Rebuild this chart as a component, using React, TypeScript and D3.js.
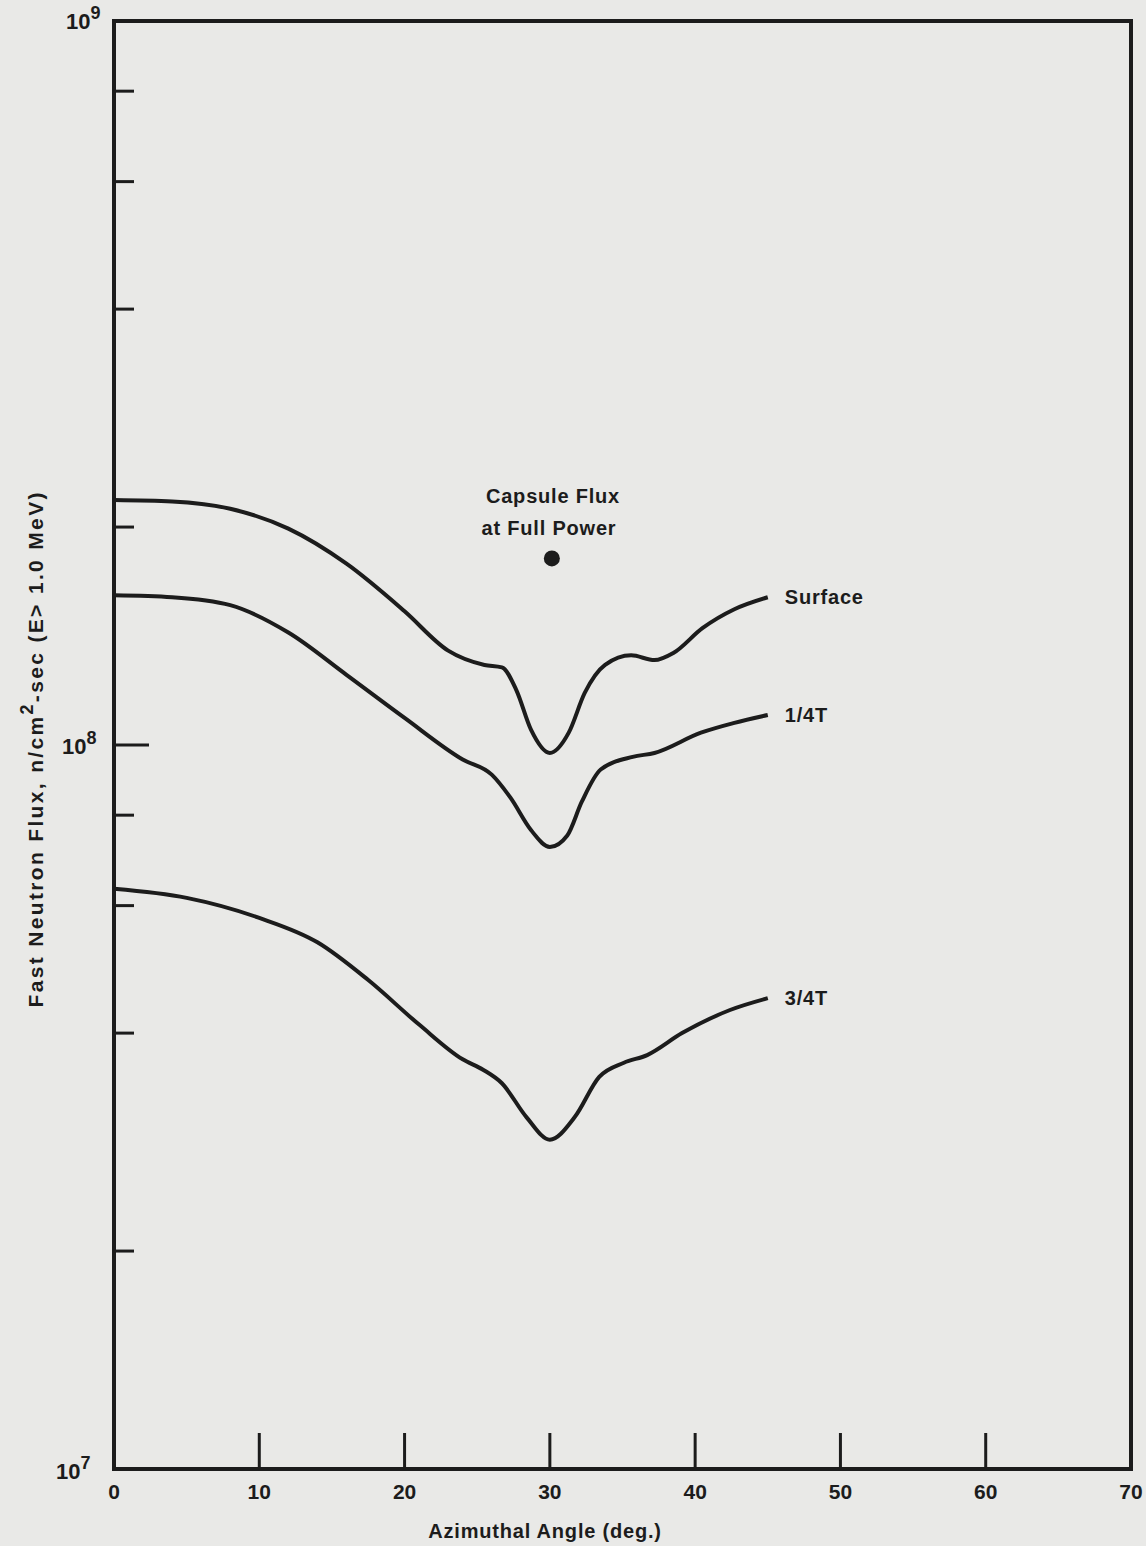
import React, { useEffect, useRef } from "react";
import * as d3 from "d3";

// azimuthal angle (deg) sampled along each curve
const surfaceAngles = [0, 4, 8, 12, 16, 20, 23, 25.5, 26.7, 27.7, 28.7, 30, 31.3, 32.4, 33.8, 35.6, 37.2, 38.5, 40.5, 42.7, 45];
const surfaceFlux = [2.18e8, 2.17e8, 2.12e8, 1.99e8, 1.78e8, 1.53e8, 1.35e8, 1.29e8, 1.28e8, 1.19e8, 1.05e8, 0.975e8, 1.04e8, 1.18e8, 1.29e8, 1.33e8, 1.31e8, 1.34e8, 1.45e8, 1.54e8, 1.6e8];

const quarterAngles = [0, 4, 8, 12, 16, 20, 24, 26, 27.3, 28.7, 30, 31.2, 32.2, 33.5, 35.7, 37.2, 40.4, 42.7, 45];
const quarterFlux = [1.61e8, 1.6e8, 1.56e8, 1.43e8, 1.25e8, 1.09e8, 0.955e8, 0.91e8, 0.845e8, 0.763e8, 0.723e8, 0.75e8, 0.835e8, 0.925e8, 0.963e8, 0.975e8, 1.04e8, 1.073e8, 1.1e8];

const threeQuarterAngles = [0, 5, 10, 14, 17.5, 21, 24, 25.4, 26.7, 28.4, 30, 31.7, 33.4, 35.1, 36.7, 39.1, 42.4, 45];
const threeQuarterFlux = [0.633e8, 0.615e8, 0.577e8, 0.534e8, 0.4735e8, 0.411e8, 0.368e8, 0.356e8, 0.341e8, 0.306e8, 0.285e8, 0.306e8, 0.348e8, 0.364e8, 0.373e8, 0.4e8, 0.4305e8, 0.447e8];

const curveNames = ["Surface", "1/4T", "3/4T"];

const capsuleAngle = 30;
const capsuleFlux = 1.81e8;

const xTicks = [0, 10, 20, 30, 40, 50, 60, 70];
const decadeTicks = [1e7, 1e8, 1e9];
const decadeLabels = ["7", "8", "9"];
const minorTicks = [2e7, 4e7, 6e7, 8e7, 2e8, 4e8, 6e8, 8e8];

const FONT = "'Liberation Sans', Arial, Helvetica, sans-serif";
const INK = "#1c1c1c";

function App() {
  const ref = useRef(null);

  useEffect(() => {
    if (!ref.current) return;
    const svg = d3.select(ref.current);
    svg.selectAll("*").remove();

    const x = d3.scaleLinear().domain([0, 70]).range([114, 1131]);
    const y = d3.scaleLog().domain([1e7, 1e9]).range([1469, 21]);

    svg.append("rect").attr("width", 1146).attr("height", 1546).attr("fill", "#e9e9e7");

    // frame
    svg
      .append("rect")
      .attr("x", x(0))
      .attr("y", y(1e9))
      .attr("width", x(70) - x(0))
      .attr("height", y(1e7) - y(1e9))
      .attr("fill", "none")
      .attr("stroke", INK)
      .attr("stroke-width", 4);

    // y ticks
    svg
      .selectAll(".ymin")
      .data(minorTicks)
      .enter()
      .append("line")
      .attr("x1", x(0))
      .attr("x2", x(0) + 20)
      .attr("y1", (d) => y(d))
      .attr("y2", (d) => y(d))
      .attr("stroke", INK)
      .attr("stroke-width", 3);

    svg
      .append("line")
      .attr("x1", x(0))
      .attr("x2", x(0) + 35)
      .attr("y1", y(1e8))
      .attr("y2", y(1e8))
      .attr("stroke", INK)
      .attr("stroke-width", 3);

    const ylab = svg
      .selectAll(".ylab")
      .data(decadeTicks)
      .enter()
      .append("text")
      .attr("x", (d) => (d === 1e8 ? 62 : d === 1e9 ? 66 : 56))
      .attr("y", (d) => (d === 1e9 ? 29 : d === 1e7 ? 1479 : y(d) + 9))
      .attr("font-family", FONT)
      .attr("font-weight", "bold")
      .attr("font-size", 22)
      .attr("fill", INK);
    ylab.append("tspan").text("10");
    ylab
      .append("tspan")
      .attr("dy", -10)
      .attr("font-size", 18)
      .text((d, i) => decadeLabels[i]);

    // x ticks
    svg
      .selectAll(".xt")
      .data(xTicks.slice(1, -1))
      .enter()
      .append("line")
      .attr("x1", (d) => x(d))
      .attr("x2", (d) => x(d))
      .attr("y1", y(1e7))
      .attr("y2", y(1e7) - 36)
      .attr("stroke", INK)
      .attr("stroke-width", 3);

    svg
      .selectAll(".xl")
      .data(xTicks)
      .enter()
      .append("text")
      .attr("x", (d) => x(d))
      .attr("y", 1499)
      .attr("text-anchor", "middle")
      .attr("font-family", FONT)
      .attr("font-weight", "bold")
      .attr("font-size", 21)
      .attr("fill", INK)
      .text((d) => d);

    svg
      .append("text")
      .attr("x", 545)
      .attr("y", 1538)
      .attr("text-anchor", "middle")
      .attr("font-family", FONT)
      .attr("font-weight", "bold")
      .attr("font-size", 20)
      .attr("letter-spacing", 0.8)
      .attr("fill", INK)
      .text("Azimuthal Angle (deg.)");

    const yt = svg
      .append("text")
      .attr("transform", "translate(43,750) rotate(-90)")
      .attr("text-anchor", "middle")
      .attr("font-family", FONT)
      .attr("font-weight", "bold")
      .attr("font-size", 21)
      .attr("textLength", 515)
      .attr("lengthAdjust", "spacing")
      .attr("fill", INK);
    yt.append("tspan").text("Fast Neutron Flux, n/cm");
    yt.append("tspan").attr("dy", -10).attr("font-size", 18).text("2");
    yt.append("tspan").attr("dy", 10).text("-sec (E> 1.0 MeV)");

    // curves
    const line = d3
      .line()
      .x((d) => x(d[0]))
      .y((d) => y(d[1]))
      .curve(d3.curveMonotoneX);

    const series = [
      d3.zip(surfaceAngles, surfaceFlux),
      d3.zip(quarterAngles, quarterFlux),
      d3.zip(threeQuarterAngles, threeQuarterFlux),
    ];

    svg
      .selectAll(".curve")
      .data(series)
      .enter()
      .append("path")
      .attr("d", (d) => line(d))
      .attr("fill", "none")
      .attr("stroke", INK)
      .attr("stroke-width", 4)
      .attr("stroke-linejoin", "round");

    svg
      .selectAll(".cname")
      .data(series)
      .enter()
      .append("text")
      .attr("x", (d) => x(d[d.length - 1][0]) + 17)
      .attr("y", (d) => y(d[d.length - 1][1]) + 7)
      .attr("font-family", FONT)
      .attr("font-weight", "bold")
      .attr("font-size", 20)
      .attr("letter-spacing", 0.8)
      .attr("fill", INK)
      .text((d, i) => curveNames[i]);

    // capsule point
    svg
      .append("circle")
      .attr("cx", x(capsuleAngle) + 2)
      .attr("cy", y(capsuleFlux))
      .attr("r", 8)
      .attr("fill", INK);

    const cap = svg
      .append("text")
      .attr("text-anchor", "middle")
      .attr("font-family", FONT)
      .attr("font-weight", "bold")
      .attr("font-size", 20)
      .attr("letter-spacing", 0.8)
      .attr("fill", INK);
    cap.append("tspan").attr("x", 553).attr("y", 503).text("Capsule Flux");
    cap.append("tspan").attr("x", 549).attr("y", 535).text("at Full Power");
  }, []);

  return (
    <svg
      ref={ref}
      width={1146}
      height={1546}
      style={{ position: "absolute", left: 0, top: 0, display: "block" }}
    />
  );
}

export default App;
